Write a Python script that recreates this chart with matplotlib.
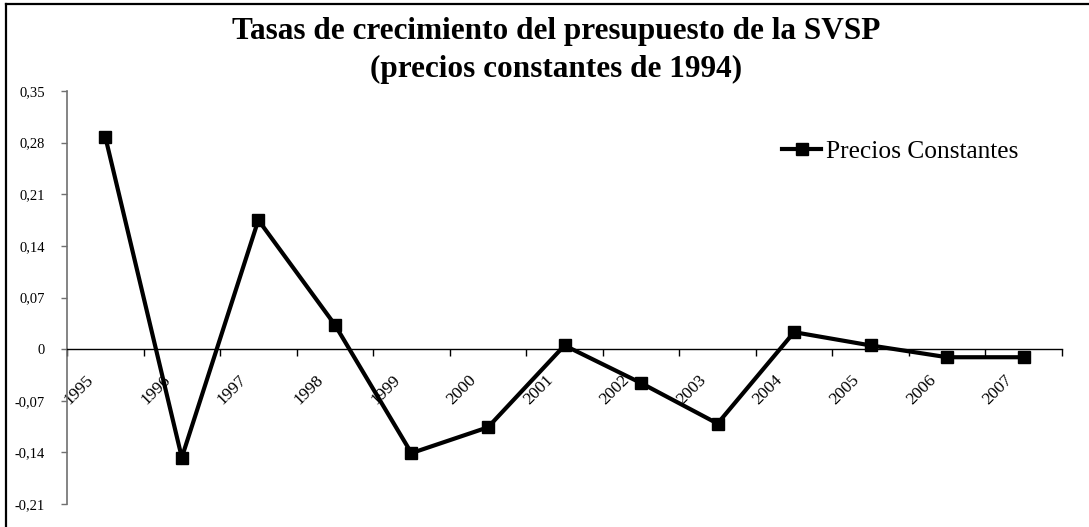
import matplotlib
matplotlib.use("Agg")
import matplotlib.pyplot as plt
from matplotlib.lines import Line2D
from matplotlib.transforms import ScaledTranslation

plt.rcParams['font.family'] = ['Liberation Serif', 'DejaVu Serif']

# data
years = ['1995', '1996', '1997', '1998', '1999', '2000', '2001',
         '2002', '2003', '2004', '2005', '2006', '2007']
growth = [0.288, -0.147, 0.175, 0.033, -0.141, -0.106, 0.005,
          -0.046, -0.101, 0.023, 0.005, -0.011, -0.011]
y_ticks = [-0.21, -0.14, -0.07, 0, 0.07, 0.14, 0.21, 0.28, 0.35]
y_tick_labels = ['-0,21', '-0,14', '-0,07', '0', '0,07', '0,14', '0,21', '0,28', '0,35']

fig = plt.figure(figsize=(10.89, 5.27), dpi=100)
ax = fig.add_axes([67 / 1089, 1 - 504 / 527, (1062 - 67) / 1089, (504 - 91) / 527])

x = list(range(len(years)))
ax.plot(x, growth, color='black', lw=3, marker='s', ms=9,
        label='Precios Constantes', solid_joinstyle='miter')

ax.set_xlim(-0.45, len(years) - 0.5)
ax.set_ylim(-0.21, 0.35)

# axes look: y axis on the left, x axis through zero
for side in ['top', 'right']:
    ax.spines[side].set_visible(False)
ax.spines['left'].set_color('#707070')
ax.spines['left'].set_linewidth(1.2)
ax.spines['bottom'].set_position(('data', 0))
ax.spines['bottom'].set_color('black')
ax.spines['bottom'].set_linewidth(1.0)

ax.set_yticks(y_ticks)
ax.set_yticklabels(y_tick_labels, fontsize=10.5)
ax.tick_params(axis='y', direction='out', length=4, width=1, color='#707070', pad=12)

# category labels at centres, tick marks at category boundaries
ax.set_xticks(x)
ax.set_xticklabels(years, fontsize=12.5, rotation=45)
ax.set_xticks([i - 0.5 for i in range(len(years) + 1)], minor=True)
ax.tick_params(axis='x', which='major', length=0, pad=29.5)
ax.tick_params(axis='x', which='minor', direction='out', length=5, width=1, color='black')
shift = ScaledTranslation(-26 / 100, 0, fig.dpi_scale_trans)
for lbl in ax.get_xticklabels():
    lbl.set_ha('center')
    lbl.set_va('center')
    lbl.set_transform(lbl.get_transform() + shift)

fig.text(0.511, 1 - 31 / 527, 'Tasas de crecimiento del presupuesto de la SVSP',
         ha='center', va='center', fontsize=22.5, fontweight='bold')
fig.text(0.511, 1 - 69 / 527, '(precios constantes de 1994)',
         ha='center', va='center', fontsize=22.5, fontweight='bold')

ax.legend(loc='center left', bbox_to_anchor=(782 / 1089, 1 - 152 / 527),
          bbox_transform=fig.transFigure, frameon=False, fontsize=18.3,
          handlelength=1.55, handletextpad=0.2, borderpad=0, borderaxespad=0)

# outer chart frame (only left and top edges fall inside the image)
fig.add_artist(Line2D([6 / 1089, 6 / 1089], [0, 1 - 4 / 527], color='black', lw=1.6,
                      transform=fig.transFigure))
fig.add_artist(Line2D([6 / 1089, 1], [1 - 4 / 527, 1 - 4 / 527], color='black', lw=1.6,
                      transform=fig.transFigure))

fig.savefig('out.png', dpi=100)
